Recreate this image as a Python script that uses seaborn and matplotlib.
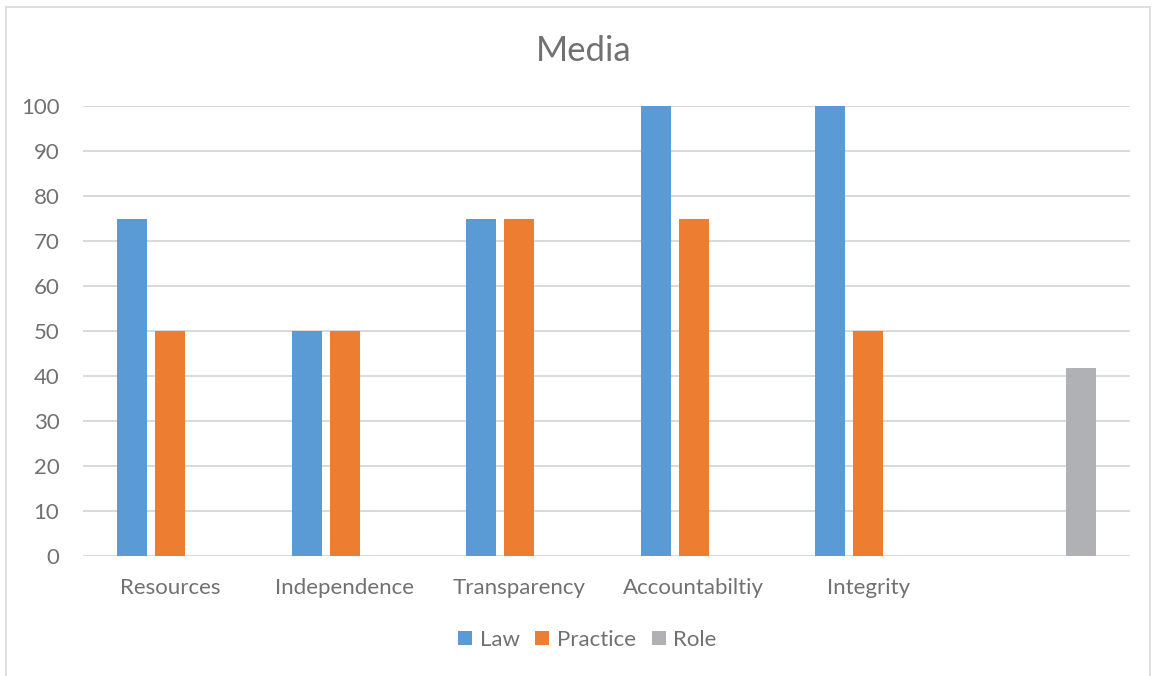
import matplotlib
matplotlib.use("Agg")
import matplotlib.pyplot as plt
from matplotlib.patches import Rectangle, Patch
import numpy as np
import pandas as pd
import seaborn as sns

# Scores per dimension (the last, unlabeled slot holds the overall Role score)
categories = ["Resources", "Independence", "Transparency", "Accountabiltiy", "Integrity", ""]
law = [75, 50, 75, 100, 100, np.nan]
practice = [50, 50, 75, 75, 50, np.nan]
role = [np.nan, np.nan, np.nan, np.nan, np.nan, 41.67]
series = ["Law", "Practice", "Role"]
colors = ["#5B9BD5", "#ED7D31", "#B0B1B4"]
yticks = [0, 10, 20, 30, 40, 50, 60, 70, 80, 90, 100]

df = pd.DataFrame({
    "category": categories * 3,
    "series": [s for s in series for _ in categories],
    "score": law + practice + role,
}).dropna()

sns.set_theme(style="white")
plt.rcParams["font.family"] = ["Lato", "DejaVu Sans"]
text_color = "#717171"

fig = plt.figure(figsize=(11.56, 6.76), dpi=100)
ax = fig.add_axes([83 / 1156, 1 - 556 / 676, (1130 - 83) / 1156, (556 - 106) / 676])

sns.barplot(data=df, x="category", y="score", hue="series", order=categories,
            hue_order=series, palette=colors, width=0.655, gap=0.21,
            saturation=1, linewidth=0, ax=ax, legend=False)

ax.set_ylim(0, 100)
ax.set_xlim(-0.5, len(categories) - 0.5)
ax.set_yticks(yticks)
ax.yaxis.grid(True, color="#D9D9D9", linewidth=1.4)
ax.set_axisbelow(True)
for side in ["top", "right", "left", "bottom"]:
    ax.spines[side].set_visible(False)
ax.set_xlabel("")
ax.set_ylabel("")
ax.tick_params(axis="y", length=0, pad=17, labelsize=16, labelcolor=text_color)
ax.tick_params(axis="x", length=0, pad=16, labelsize=16, labelcolor=text_color)

fig.text(0.505, 1 - 51 / 676, "Media", ha="center", va="center",
         fontsize=25, color=text_color)

handles = [Patch(facecolor=c, edgecolor="none") for c in colors]
fig.legend(handles, series, loc="center", bbox_to_anchor=(0.508, 1 - 640 / 676),
           ncol=3, frameon=False, fontsize=16, labelcolor=text_color,
           handlelength=0.63, handleheight=0.63, handletextpad=0.35,
           columnspacing=0.7)

# Light chart-area frame
fig.add_artist(Rectangle((6 / 1156, -0.02), (1150 - 6) / 1156, 1 - 7 / 676 + 0.02,
                         transform=fig.transFigure, fill=False,
                         edgecolor="#D9D9D9", linewidth=1.2))

fig.savefig("out.png", dpi=100)
